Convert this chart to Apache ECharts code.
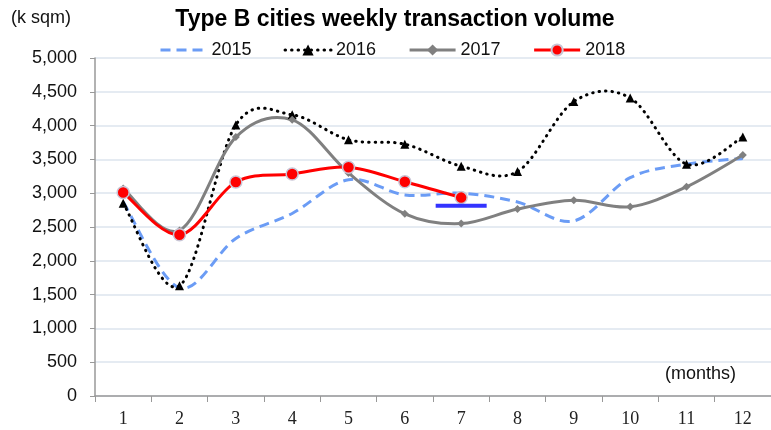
<!DOCTYPE html>
<html>
<head>
<meta charset="utf-8">
<script src="https://cdn.jsdelivr.net/npm/echarts@6/dist/echarts.min.js"></script>
<style>
	html,body{margin:0;padding:0;background:#fff;}
	#chart{width:771px;height:430px;}
</style>
</head>
<body>
<div id="chart"></div>
<script>
// months on the x axis
var months = ["1","2","3","4","5","6","7","8","9","10","11","12"];
// weekly transaction volume, k sqm
var vol2015 = [2870, 1600, 2330, 2700, 3200, 2975, 3000, 2870, 2590, 3230, 3430, 3515];
var vol2016 = [2850, 1630, 4010, 4160, 3790, 3725, 3400, 3320, 4355, 4410, 3430, 3830];
var vol2017 = [3070, 2450, 3830, 4085, 3300, 2695, 2550, 2765, 2895, 2800, 3095, 3565];
var vol2018 = [3010, 2385, 3165, 3285, 3385, 3170, 2935];
// short blue mark at month 7
var mark2018 = [["7", 2815]];
var yTicks = [0, 5000, 500];

(function(){
	var font = "Liberation Sans, Arial, sans-serif";
	var chart = echarts.init(document.getElementById("chart"));

	// excel-like smoothed curve (catmull-rom), points come from api.coord
	function curvePath(pts){
		var n = pts.length, d = "M" + pts[0][0] + "," + pts[0][1];
		for(var i=0;i<n-1;i++){
			var p0 = pts[Math.max(i-1,0)], p1 = pts[i], p2 = pts[i+1], p3 = pts[Math.min(i+2,n-1)];
			var c1x = p1[0] + (p2[0]-p0[0])/6, c1y = p1[1] + (p2[1]-p0[1])/6;
			var c2x = p2[0] - (p3[0]-p1[0])/6, c2y = p2[1] - (p3[1]-p1[1])/6;
			d += " C" + c1x + "," + c1y + " " + c2x + "," + c2y + " " + p2[0] + "," + p2[1];
		}
		return d;
	}

	function curveSeries(name, values, style, z){
		return {
			name:name + "_curve",
			type:"custom",
			data:values.map(function(v,i){ return [i,v]; }),
			encode:{x:0, y:1},
			silent:true,
			z:z,
			animation:false,
			renderItem:function(params, api){
				if(params.dataIndex !== 0){ return null; }
				var pts = values.map(function(v,i){ return api.coord([i,v]); });
				var st = {fill:"none"};
				for(var k in style){ st[k] = style[k]; }
				return {type:"path", shape:{pathData:curvePath(pts)}, style:st};
			}
		};
	}

	function markSeries(name, values, color, symbol, size, extra){
		return {
			name:name,
			type:"line",
			data:values,
			symbol:symbol,
			symbolSize:size,
			showSymbol:symbol !== "none",
			color:color,
			lineStyle:{opacity:0},
			itemStyle:extra || {color:color},
			emphasis:{disabled:true},
			z:10,
			animation:false
		};
	}

	var s2015 = {stroke:"#6b9cf5", lineWidth:3, lineDash:[10,6]};
	var s2016 = {stroke:"#000", lineWidth:3, lineDash:[0.5,6], lineCap:"round"};
	var s2017 = {stroke:"#808080", lineWidth:3};
	var s2018 = {stroke:"#ff0000", lineWidth:3};

	var option = {
		backgroundColor:"#fff",
		animation:false,
		title:{
			text:"Type B cities weekly transaction volume",
			left:390, top:3, textAlign:"center",
			textStyle:{fontFamily:font, fontSize:23, fontWeight:"bold", color:"#000"}
		},
		legend:{
			left:154, top:36,
			itemWidth:46, itemHeight:14, itemGap:32,
			textStyle:{fontFamily:font, fontSize:18, color:"#111"},
			data:[
				{name:"2015", lineStyle:{color:"#6b9cf5", width:3, type:[10,6], opacity:1}, itemStyle:{opacity:0}},
				{name:"2016", lineStyle:{color:"#000", width:3, type:[0.5,6], cap:"round", opacity:1}},
				{name:"2017", lineStyle:{color:"#808080", width:3, type:"solid", opacity:1}},
				{name:"2018", lineStyle:{color:"#ff0000", width:3, type:"solid", opacity:1}}
			]
		},
		grid:{left:95, right:-4, top:58, bottom:34, containLabel:false},
		xAxis:{
			type:"category",
			data:months,
			boundaryGap:true,
			axisLine:{lineStyle:{color:"#999", width:1.5}},
			axisTick:{show:true, length:6, lineStyle:{color:"#999"}},
			axisLabel:{fontFamily:"Liberation Serif, DejaVu Serif, serif", fontSize:18, color:"#222", margin:14},
			splitLine:{show:false}
		},
		yAxis:{
			type:"value",
			min:yTicks[0], max:yTicks[1], interval:yTicks[2],
			axisLine:{show:true, lineStyle:{color:"#999", width:1.5}},
			axisTick:{show:true, length:5, lineStyle:{color:"#999"}},
			axisLabel:{
				fontFamily:font, fontSize:18, color:"#111", margin:18,
				formatter:function(v){ return v.toLocaleString("en-US"); }
			},
			splitLine:{lineStyle:{color:"#dde4ee", width:1.5}}
		},
		graphic:[
			{type:"text", left:11, top:9, style:{text:"(k sqm)", font:"18px " + font, fill:"#111"}},
			{type:"text", left:665, top:365, style:{text:"(months)", font:"18px " + font, fill:"#111"}}
		],
		series:[
			markSeries("2015", vol2015, "#6b9cf5", "none", 0),
			markSeries("2016", vol2016, "#000", "triangle", 9),
			markSeries("2017", vol2017, "#808080", "diamond", 8),
			markSeries("2018", vol2018, "#ff0000", "circle", 12,
				{color:"#ff0000", borderColor:"#c9c6d6", borderWidth:1.5}),
			curveSeries("2015", vol2015, s2015, 2),
			curveSeries("2016", vol2016, s2016, 3),
			curveSeries("2017", vol2017, s2017, 4),
			curveSeries("2018", vol2018, s2018, 5),
			{
				name:"mark",
				type:"scatter",
				data:mark2018,
				symbol:"rect",
				symbolSize:[51,4],
				itemStyle:{color:"#0000ff"},
				silent:true,
				z:12,
				animation:false
			}
		]
	};
	chart.setOption(option);
})();
</script>
</body>
</html>
